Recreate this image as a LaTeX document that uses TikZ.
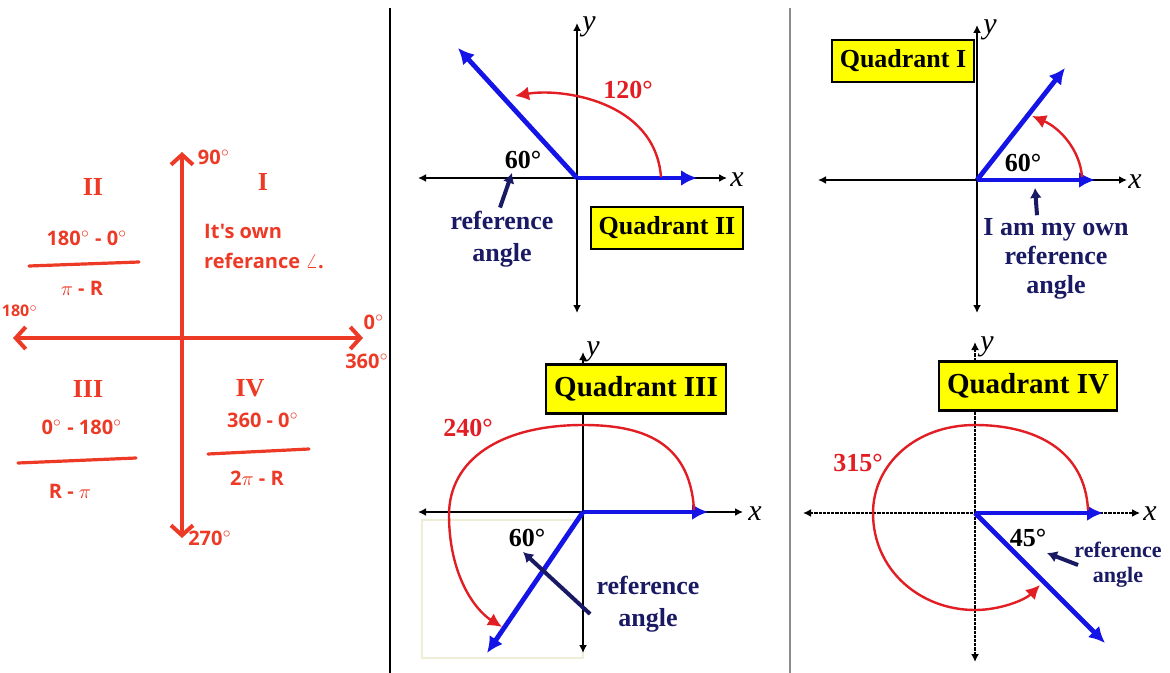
\documentclass[tikz,border=0pt]{standalone}
\usepackage{fontspec}
\setmainfont{Liberation Serif}
\newfontfamily\handfont{Open Sans}
\usetikzlibrary{arrows.meta,positioning}

\definecolor{penred}{RGB}{236,58,38}
\definecolor{rayblue}{RGB}{20,20,230}
\definecolor{arcred}{RGB}{225,30,35}
\definecolor{labnavy}{RGB}{25,25,100}
\definecolor{boxyellow}{RGB}{255,255,0}
\definecolor{paleline}{RGB}{238,238,215}

\begin{document}
\begin{tikzpicture}[
    x=0.5pt, y=-0.5pt,
    every node/.style={inner sep=1pt},
    pen/.style={draw=penred, line width=2pt, line cap=round,
      {Straight Barb[length=5pt,width=11pt]}-{Straight Barb[length=5pt,width=11pt]}},
    penline/.style={draw=penred, line width=1.6pt, line cap=round},
    hand/.style={text=penred, font=\handfont\bfseries\fontsize{10}{12}\selectfont},
    numeral/.style={text=penred, font=\bfseries\fontsize{13}{15}\selectfont},
    axis/.style={draw=black, line width=0.8pt,
      {Latex[length=4pt,width=4pt]}-{Latex[length=4pt,width=4pt]}},
    dotaxis/.style={axis, line width=1.1pt, dash pattern=on 1.6pt off 0.5pt},
    ray/.style={draw=rayblue, line width=2.4pt, -{Latex[length=8pt,width=8pt]}},
    sweep/.style={draw=arcred, line width=1.2pt, -{Latex[length=7pt,width=7pt]}},
    pointer/.style={draw=labnavy, line width=2pt, -{Latex[length=5pt,width=6pt]}},
    quad/.style={draw=black, line width=1.2pt, fill=boxyellow,
      inner xsep=4pt, inner ysep=5pt,
      font=\bfseries\fontsize{13}{15}\selectfont},
    bigquad/.style={quad, inner ysep=6pt, font=\bfseries\fontsize{14.5}{16}\selectfont},
    deg/.style={font=\bfseries\fontsize{13}{15}\selectfont},
    redlab/.style={deg, text=arcred},
    reflab/.style={text=labnavy, align=center, inner sep=0pt,
      font=\bfseries\fontsize{13}{16}\selectfont},
    axlab/.style={font=\itshape\fontsize{15}{15}\selectfont}
]
\useasboundingbox (0,0) rectangle (1170,673);

% panel dividers
\draw[line width=1pt] (390,8) -- (390,673);
\draw[line width=1pt, black!45] (790,8) -- (790,673);

% hand drawn summary
\coordinate (hO) at (182,338);
\coordinate (hT) at (182,152);
\coordinate (hB) at (182,538);
\coordinate (hL) at (13,338);
\coordinate (hR) at (363,338);
\draw[pen] (hB) -- (hT);
\draw[pen] (hL) -- (hR);
\node[hand] (h90) at (214,157) {90$^\circ$};
\node[hand] (h0) at (374,322) {0$^\circ$};
\node[hand] (h360) at (367,361) {360$^\circ$};
\node[hand, font=\handfont\bfseries\fontsize{8}{10}\selectfont] (h180) at (20,311) {180$^\circ$};
\node[hand] (h270) at (210,538) {270$^\circ$};

\node[numeral] (nII) at (93,187) {II};
\node[numeral] (nI) at (263,182) {I};
\node[numeral] (nIII) at (88,389) {III};
\node[numeral] (nIV) at (250,388) {IV};

\node[hand] (fII) at (87,238) {180$^\circ$ - 0$^\circ$};
\draw[penline] (29,266) -- (139,262);
\node[hand] (gII) at (82,288) {$\pi$ - R};

\node[hand, align=left] (fI) at (264,246) {It's own\\[3pt]referance $\angle$.};

\node[hand] (fIII) at (82,427) {0$^\circ$ - 180$^\circ$};
\draw[penline] (18,463) -- (136,458);
\node[hand] (gIII) at (70,491) {R - $\pi$};

\node[hand] (fIV) at (263,420) {360 - 0$^\circ$};
\draw[penline] (208,454) -- (309,449);
\node[hand] (gIV) at (257,478) {2$\pi$ - R};

% Quadrant II
\coordinate (aO) at (577,178);
\coordinate (aX) at (697,178);
\coordinate (aT) at (458,48);
\draw[axis] (418,178) -- (727,178);
\draw[axis] (577,313) -- (577,23);
\node[axlab] (ax) at (737,180) {x};
\node[axlab] (ay) at (589,27) {y};
\draw[ray] (aO) -- (aX);
\draw[ray] (aO) -- (aT);
\draw[sweep] (661,177) .. controls (655,100) and (560,88) .. (515,96);
\node[redlab] (a120) at (628,90) {120°};
\node[deg] (a60) at (523,160) {60°};
\node[reflab] (aref) at (502,239) {reference\\angle};
\coordinate (aP) at (512,173);
\draw[pointer] (aref.north) ++(-2,-3) -- (aP);
\node[quad] (qII) at (667,228) {Quadrant II};

% Quadrant I
\coordinate (bO) at (977,180);
\coordinate (bX) at (1095,180);
\coordinate (bT) at (1065,68);
\draw[axis] (818,180) -- (1127,180);
\draw[axis] (977,313) -- (977,25);
\node[axlab] (bx) at (1135,182) {x};
\node[axlab] (by) at (990,30) {y};
\draw[ray] (bO) -- (bX);
\draw[ray] (bO) -- (bT);
\draw[sweep] (1082,177) .. controls (1080,150) and (1060,128) .. (1032,116);
\node[deg] (b60) at (1023,163) {60°};
\node[reflab, font=\bfseries\fontsize{13}{14.5}\selectfont] (bref) at (1056,259) {I am my own\\reference\\angle};
\coordinate (bP) at (1035,188);
\draw[pointer] (bref.north) ++(-19,-3) -- (bP);
\node[quad] (qI) at (903,61) {Quadrant I};

% Quadrant III
\coordinate (cO) at (583,512);
\coordinate (cX) at (708,512);
\coordinate (cT) at (487,653);
\draw[paleline, line width=0.6pt] (422,520) rectangle (583,658);
\draw[axis] (418,512) -- (743,512);
\draw[axis] (583,653) -- (583,352);
\node[axlab] (cx) at (755,514) {x};
\node[axlab] (cy) at (593,352) {y};
\draw[ray] (cO) -- (cX);
\draw[ray] (cO) -- (cT);
\draw[sweep] (694,510) .. controls (690,440) and (640,425) .. (583,425)
  .. controls (500,425) and (449,460) .. (449,515)
  .. controls (449,575) and (475,610) .. (502,627);
\node[redlab] (c240) at (468,428) {240°};
\node[deg] (c60) at (527,538) {60°};
\node[reflab] (cref) at (648,604) {reference\\angle};
\coordinate (cP) at (523,552);
\draw[pointer] (cref.west) ++(-6,10) -- (cP);
\node[bigquad] (qIII) at (636,389) {Quadrant III};

% Quadrant IV
\coordinate (dO) at (975,513);
\coordinate (dX) at (1103,513);
\coordinate (dT) at (1105,643);
\draw[dotaxis] (803,513) -- (1140,513);
\draw[dotaxis] (975,662) -- (975,342);
\node[axlab] (dx) at (1150,514) {x};
\node[axlab] (dy) at (987,347) {y};
\draw[ray] (dO) -- (dX);
\draw[ray] (dO) -- (dT);
\draw[sweep] (1088,510) .. controls (1085,450) and (1035,425) .. (975,425)
  .. controls (915,425) and (873,465) .. (873,513)
  .. controls (873,570) and (920,610) .. (975,610)
  .. controls (1000,610) and (1025,600) .. (1040,585);
\node[redlab] (d315) at (858,463) {315°};
\node[deg] (d45) at (1028,538) {45°};
\node[reflab, font=\bfseries\fontsize{11}{12.5}\selectfont] (dref) at (1118,565) {reference\\angle};
\coordinate (dP) at (1047,553);
\draw[pointer] (dref.west) ++(4,0) -- (dP);
\node[bigquad] (qIV) at (1028,386) {Quadrant IV};

\end{tikzpicture}
\end{document}
